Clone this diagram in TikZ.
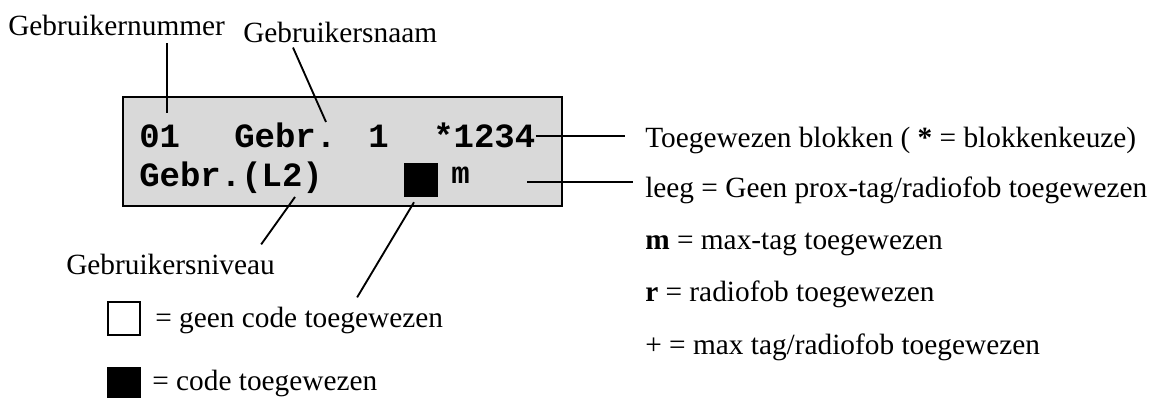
\documentclass[tikz,border=0pt]{standalone}
\usepackage{fontspec}
\setmainfont{Liberation Serif}
\newfontfamily\lcdfont{Liberation Mono}
\definecolor{lcdgray}{RGB}{217,217,217}

\begin{document}
\begin{tikzpicture}[
	x=0.75pt, y=-0.75pt,
	font=\fontsize{22}{24}\selectfont,
	lbl/.style={anchor=base west, inner sep=0pt},
	lcdtxt/.style={anchor=base west, inner sep=0pt, font=\lcdfont\bfseries\fontsize{25.5}{28}\selectfont},
	lcd/.style={draw, line width=1.6pt, fill=lcdgray, minimum width=329.25pt, minimum height=81.75pt, inner sep=0pt},
	sq/.style={draw, line width=1.6pt, minimum size=24.5pt, inner sep=0pt},
	lead/.style={line width=1.4pt}
]
\useasboundingbox (0,0) rectangle (1165,398);

% display
\node[lcd] (lcd) at (342.5,151.5) {};
\node[lcdtxt] (num) at (139,148) {01};
\node[lcdtxt] (name) at (234,148) {Gebr.};
\node[lcdtxt] (one) at (368,148) {1};
\node[lcdtxt] (blocks) at (433,148) {*1234};
\node[lcdtxt] (level) at (139,187) {Gebr.(L2)};
\node[fill, minimum size=25.5pt, inner sep=0pt] (codebox) at (421,180) {};
\node[lcdtxt, font=\lcdfont\bfseries\fontsize{23}{26}\selectfont] (tagm) at (451,184) {m};

% labels left
\node[lbl] (lblnum) at (8,36) {Gebruikernummer};
\node[lbl] (lblname) at (243,43) {Gebruikersnaam};
\node[lbl] (lbllevel) at (66,275) {Gebruikersniveau};
\node[sq] (sqnone) at (124,318.5) {};
\node[lbl] (lblnone) at (155,328) {= geen code toegewezen};
\node[sq, fill] (sqcode) at (124,384) {};
\node[lbl] (lblcode) at (152,391) {= code toegewezen};

% labels right
\node[lbl] (lbltoe) at (645,148) {Toegewezen blokken ( \textbf{*} = blokkenkeuze)};
\node[lbl] (lblleeg) at (645,198) {leeg = Geen prox-tag/radiofob toegewezen};
\node[lbl] (lblm) at (645,250) {\textbf{m} = max-tag toegewezen};
\node[lbl] (lblr) at (645,302) {\textbf{r} = radiofob toegewezen};
\node[lbl] (lblplus) at (645,355) {+ = max tag/radiofob toegewezen};

% lines
\coordinate (numtip) at (167,113);
\coordinate (nametip) at (326,122);
\coordinate (emptytip) at (527,182);
\coordinate (leveltip) at (295,197);
\draw[lead, shorten <=5pt] (numtip |- lblnum.south) -- (numtip);
\draw[lead] ([xshift=37.5pt,yshift=-3pt]lblname.south west) -- (nametip);
\draw[lead] (blocks.east) -- ([xshift=-15pt]lbltoe.west |- blocks.east);
\draw[lead] (emptytip) -- ([xshift=-9pt]lblleeg.west |- emptytip);
\draw[lead] (leveltip) -- ([xshift=68pt,yshift=7.5pt]lbllevel.north);
\draw[lead] ([xshift=-5.25pt,yshift=-3.75pt]codebox.south) -- ([xshift=43.5pt,yshift=7.5pt]lblnone.north);
\end{tikzpicture}
\end{document}
